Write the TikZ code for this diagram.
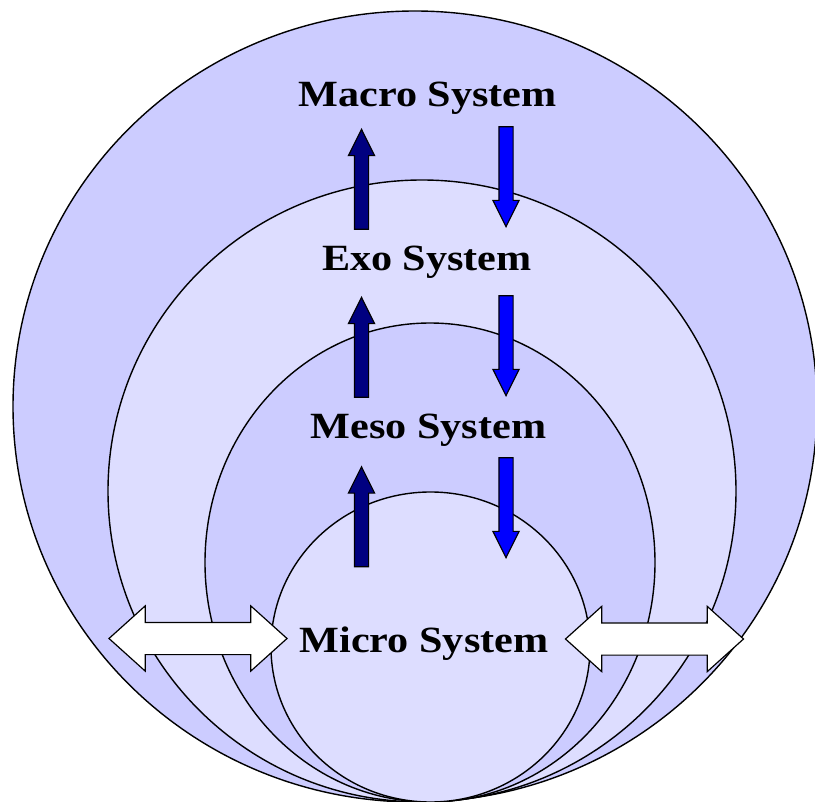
\documentclass[tikz,border=0pt]{standalone}
\usepackage{fontspec}
\setmainfont{Liberation Serif}
\newfontfamily\labelfont[FakeStretch=1.14]{Liberation Serif}
\usetikzlibrary{shapes.arrows}
\definecolor{ringdark}{HTML}{CCCCFF}
\definecolor{ringlight}{HTML}{DDDDFF}
\definecolor{upblue}{HTML}{000080}
\definecolor{downblue}{HTML}{0000FF}

\begin{document}
\begin{tikzpicture}[x=1pt, y=-1pt, line width=1.4pt,
    lvl/.style={font=\labelfont\bfseries\fontsize{37}{40}\selectfont, anchor=base, inner sep=0pt},
    flow/.style={single arrow, draw, line width=1.2pt, inner xsep=6.5pt, inner ysep=0pt, minimum height=100pt,
      single arrow head extend=6pt, single arrow tip angle=53, anchor=tip},
    swap/.style={double arrow, draw, fill=white, line width=1.2pt, inner xsep=0pt, inner ysep=15.5pt, minimum height=178pt,
      double arrow head extend=16.5pt, double arrow tip angle=84}]
  \useasboundingbox (0,0) rectangle (815,802);
  \clip (0,0) rectangle (815,802);
  % nested systems, all touching at the bottom
  \filldraw[fill=ringdark] (415,406.5) ellipse [x radius=402, y radius=395.5];
  \filldraw[fill=ringlight] (422,491) ellipse [x radius=314, y radius=311];
  \filldraw[fill=ringdark] (430,562.5) ellipse [x radius=225, y radius=239.5];
  \filldraw[fill=ringlight] (430.5,647) ellipse [x radius=159.5, y radius=155];
  \node[lvl] (macro) at (427.5,107) {Macro System};
  \node[lvl] (exo) at (427,271) {Exo System};
  \node[lvl] (meso) at (428.5,439) {Meso System};
  \node[lvl] (micro) at (424,652) {Micro System};
  % influence up and down (placed by their tips)
  \node[flow, fill=upblue, shape border rotate=90] (up1) at (361.5,128) {};
  \node[flow, fill=downblue, shape border rotate=270] (down1) at (506,228) {};
  \node[flow, fill=upblue, shape border rotate=90] (up2) at (361.5,296) {};
  \node[flow, fill=downblue, shape border rotate=270] (down2) at (506,397) {};
  \node[flow, fill=upblue, shape border rotate=90] (up3) at (361.5,465.5) {};
  \node[flow, fill=downblue, shape border rotate=270] (down3) at (506,559) {};
  % exchange across the levels
  \node[swap] (left) at (198,638.5) {};
  \node[swap] (right) at (654.5,639) {};
\end{tikzpicture}
\end{document}
